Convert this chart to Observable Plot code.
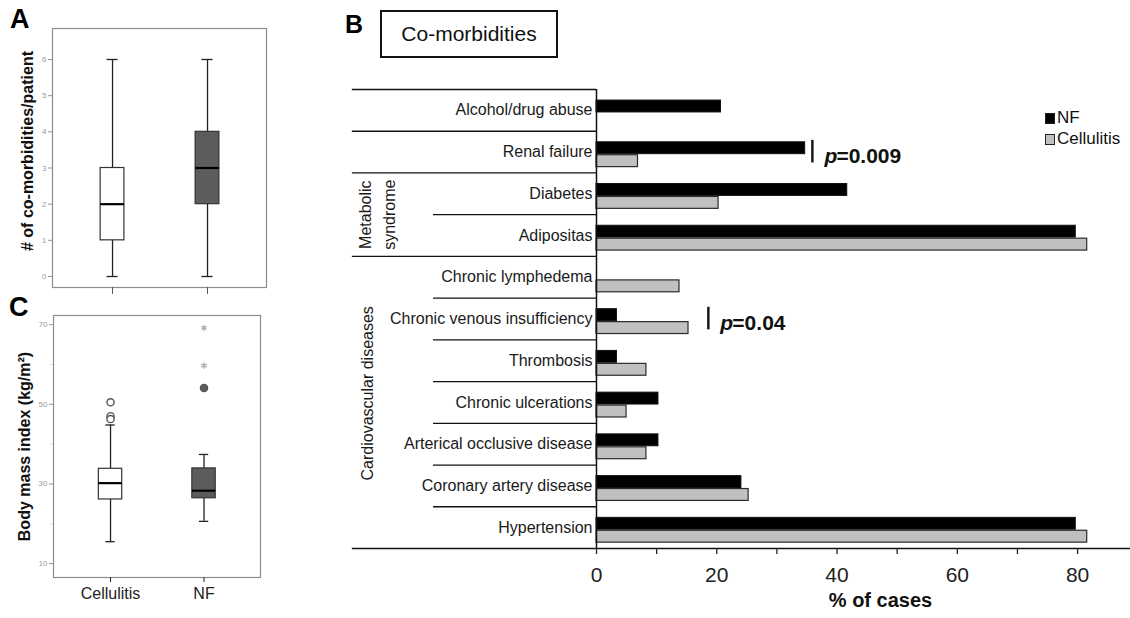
<!DOCTYPE html>
<html>
<head>
<meta charset="utf-8">
<script src="https://cdn.jsdelivr.net/npm/d3@7"></script>
<script src="https://cdn.jsdelivr.net/npm/@observablehq/plot@0.6"></script>
<style>
  html, body { margin: 0; padding: 0; background: #fff; }
  #root { position: relative; width: 1130px; height: 618px; overflow: hidden; background: #fff;
          font-family: "Liberation Sans", Arial, sans-serif; color: #111; }
  #root svg { position: absolute; }
  .letter { position: absolute; font-weight: bold; color: #000; line-height: 1; }
  .titlebox { position: absolute; left: 380px; top: 10px; width: 174px; height: 44px;
              border: 2px solid #111; font-size: 21px; line-height: 44px; text-align: center; }
  .legend { position: absolute; left: 1045px; top: 107px; font-size: 17px; line-height: 21px; }
  .legend .sw { display: inline-block; width: 8px; height: 9px; margin-right: 2px; vertical-align: -1px; border: 1px solid #222; }
</style>
</head>
<body>
<div id="root"></div>
<script>
// ---------------- Data ----------------
// Panel B: co-morbidities, % of cases
const comorbidities = [
  "Alcohol/drug abuse", "Renal failure", "Diabetes", "Adipositas",
  "Chronic lymphedema", "Chronic venous insufficiency", "Thrombosis",
  "Chronic ulcerations", "Arterical occlusive disease",
  "Coronary artery disease", "Hypertension"
];
const nfPercent         = [20.7, 34.7, 41.7, 79.7, 0,    3.4,  3.4, 10.3, 10.3, 24.1, 79.7];
const cellulitisPercent = [0,     6.9, 20.3, 81.6, 13.8, 15.3, 8.3,  5.0,  8.3, 25.3, 81.6];
const seriesNames = ["NF", "Cellulitis"];
const percentTicks = [0, 10, 20, 30, 40, 50, 60, 70, 80];
const percentLabelled = [0, 20, 40, 60, 80];
// Row separators (row boundary index) and whether they span the group-label column
const separatorRow  = [0, 1, 2, 3, 4, 5, 6, 7, 8, 9, 10];
const separatorWide = [true, true, true, false, true, false, false, false, false, false, false];
// Group labels and the rows they cover
const groupLabels   = ["Metabolic\nsyndrome", "Cardiovascular diseases"];
const groupFirstRow = [2, 4];
const groupLastRow  = [3, 10];
// Significance annotations
const pRows   = [1, 5];
const pAt     = [35.9, 18.6];   // % position of the marker bar
const pValues = ["0.009", "0.04"];

// Panel A: number of co-morbidities per patient (box plot)
const boxGroups = ["Cellulitis", "NF"];
const comorbMin    = [0, 0];
const comorbQ1     = [1, 2];
const comorbMedian = [2, 3];
const comorbQ3     = [3, 4];
const comorbMax    = [6, 6];
const comorbTicks  = [0, 1, 2, 3, 4, 5, 6];

// Panel C: body mass index (box plot)
const bmiMin    = [15.5, 20.6];
const bmiQ1     = [26.1, 26.4];
const bmiMedian = [30.2, 28.3];
const bmiQ3     = [33.8, 33.9];
const bmiMax    = [44.8, 37.4];
const bmiOutlierGroup = ["Cellulitis", "Cellulitis", "Cellulitis", "NF", "NF", "NF"];
const bmiOutlierValue = [50.5, 47.0, 46.3, 54.1, 59.7, 69.2];
const bmiOutlierKind  = ["circle", "circle", "circle", "circle", "extreme", "extreme"];
const bmiTicks      = [10, 30, 50, 70];
const bmiMinorTicks = [20, 40, 60];

// ---------------- Helpers ----------------
const FONT = "'Liberation Sans', Arial, sans-serif";
const root = document.getElementById("root");
function place(node, left, top) {
  node.style.left = left + "px";
  node.style.top = top + "px";
  root.appendChild(node);
}
function addDiv(cls, text, left, top, size) {
  const d = document.createElement("div");
  d.className = cls;
  d.textContent = text;
  d.style.left = left + "px";
  d.style.top = top + "px";
  if (size) d.style.fontSize = size + "px";
  root.appendChild(d);
  return d;
}
const boxColor = {Cellulitis: "#ffffff", NF: "#5c5c5c"};

function boxRows(mins, q1s, meds, q3s, maxs) {
  return boxGroups.map((g, i) => ({
    group: g, pos: i + 1, min: mins[i], q1: q1s[i], median: meds[i], q3: q3s[i], max: maxs[i]
  }));
}

function boxMarks(rows, halfBox, halfCap) {
  return [
    Plot.ruleX(rows, {x: "pos", y1: "min", y2: "q1", stroke: "#222", strokeWidth: 1.3}),
    Plot.ruleX(rows, {x: "pos", y1: "q3", y2: "max", stroke: "#222", strokeWidth: 1.3}),
    Plot.ruleY(rows, {y: "min", x1: d => d.pos - halfCap, x2: d => d.pos + halfCap, stroke: "#222", strokeWidth: 1.3}),
    Plot.ruleY(rows, {y: "max", x1: d => d.pos - halfCap, x2: d => d.pos + halfCap, stroke: "#222", strokeWidth: 1.3}),
    Plot.rect(rows, {x1: d => d.pos - halfBox, x2: d => d.pos + halfBox, y1: "q1", y2: "q3",
      fill: d => boxColor[d.group], stroke: "#333", strokeWidth: 1.2}),
    Plot.ruleY(rows, {y: "median", x1: d => d.pos - halfBox, x2: d => d.pos + halfBox, stroke: "#000", strokeWidth: 2.2})
  ];
}

// ---------------- Panel A ----------------
const comorbBoxes = boxRows(comorbMin, comorbQ1, comorbMedian, comorbQ3, comorbMax);
const panelA = Plot.plot({
  width: 280, height: 296,
  marginLeft: 52, marginRight: 14, marginTop: 28, marginBottom: 9,
  style: {background: "transparent", fontFamily: FONT},
  x: {domain: [0.368, 2.621]},
  y: {domain: [-0.304, 6.857]},
  marks: [
    Plot.frame({stroke: "#8c8c8c", strokeWidth: 1.2}),
    Plot.axisY({ticks: comorbTicks, tickSize: 4, tickPadding: 2, fontSize: 8, color: "#9a9a9a", label: null}),
    Plot.axisX({ticks: [1, 2], tickFormat: () => "", tickSize: 7, color: "#555", label: null}),
    ...boxMarks(comorbBoxes, 0.125, 0.058),
    Plot.text(["# of co-morbidities/patient"], {frameAnchor: "left", textAnchor: "middle", dx: -25, dy: -7, rotate: -90,
      fontSize: 16, fontWeight: "bold", fill: "#111"})
  ]
});
place(panelA, 0, 0);

// ---------------- Panel C ----------------
const bmiBoxes = boxRows(bmiMin, bmiQ1, bmiMedian, bmiQ3, bmiMax);
const bmiOutliers = bmiOutlierValue.map((v, i) => ({
  pos: boxGroups.indexOf(bmiOutlierGroup[i]) + 1, group: bmiOutlierGroup[i], value: v, kind: bmiOutlierKind[i]
}));
const panelC = Plot.plot({
  width: 280, height: 318,
  marginLeft: 53, marginRight: 20, marginTop: 15, marginBottom: 41,
  style: {background: "transparent", fontFamily: FONT},
  x: {domain: [0.39, 2.604]},
  y: {domain: [6.5, 72.3]},
  marks: [
    Plot.frame({stroke: "#8c8c8c", strokeWidth: 1.2}),
    Plot.axisY({ticks: bmiTicks, tickSize: 4, tickPadding: 2, fontSize: 8, color: "#9a9a9a", label: null}),
    Plot.axisY({ticks: bmiMinorTicks, tickFormat: () => "", tickSize: 3, color: "#dddddd", label: null}),
    Plot.axisX({ticks: [1, 2], tickFormat: d => boxGroups[d - 1], tickSize: 5, tickPadding: 5,
      fontSize: 16, color: "#222", label: null}),
    ...boxMarks(bmiBoxes, 0.125, 0.05),
    Plot.dot(bmiOutliers.filter(d => d.kind === "circle"), {x: "pos", y: "value", r: 3.6,
      fill: d => boxColor[d.group], stroke: "#555", strokeWidth: 1.4}),
    Plot.dot(bmiOutliers.filter(d => d.kind === "extreme"), {x: "pos", y: "value", r: 3,
      symbol: "asterisk", stroke: "#a8a8a8", strokeWidth: 1.2}),
    Plot.text(["Body mass index (kg/m²)"], {frameAnchor: "left", textAnchor: "middle", dx: -29, rotate: -90,
      fontSize: 16, fontWeight: "bold", fill: "#111"})
  ]
});
place(panelC, 0, 300);

// ---------------- Panel B ----------------
const nfRows = comorbidities.map((c, i) => ({row: i, name: c, value: nfPercent[i]})).filter(d => d.value > 0);
const cellRows = comorbidities.map((c, i) => ({row: i, name: c, value: cellulitisPercent[i]})).filter(d => d.value > 0);
const separators = separatorRow.map((r, i) => ({row: r, wide: separatorWide[i]}));
const groups = groupLabels.map((g, i) => ({label: g, mid: (groupFirstRow[i] + groupLastRow[i] + 1) / 2, multi: g.includes("\n")}));
const pMarks = pRows.map((r, i) => ({row: r, at: pAt[i], value: pValues[i]}));
const X_MAX = 88.8;          // right edge of the panel in % units
const WIDE_X = -40.6;        // left end of a wide separator, in % units
const SHORT_X = -27.1;       // left end of a short separator, in % units

const panelB = Plot.plot({
  width: 790, height: 618,
  marginLeft: 256, marginRight: 0, marginTop: 89, marginBottom: 70,
  style: {background: "transparent", fontFamily: FONT},
  x: {domain: [0, X_MAX]},
  y: {domain: [0, comorbidities.length], reverse: true},
  marks: [
    // bars
    Plot.rect(nfRows, {x1: 0, x2: "value", y1: d => d.row + 0.265, y2: d => d.row + 0.55,
      fill: "#000", stroke: "#111", strokeWidth: 1}),
    Plot.rect(cellRows, {x1: 0, x2: "value", y1: d => d.row + 0.575, y2: d => d.row + 0.86,
      fill: "#c0c0c0", stroke: "#2a2a2a", strokeWidth: 1.2}),
    // row separators
    Plot.ruleY(separators, {y: "row", x1: d => d.wide ? WIDE_X : SHORT_X, x2: 0, stroke: "#111", strokeWidth: 1.3}),
    // bottom axis line spanning the whole panel
    Plot.ruleY([comorbidities.length], {x1: WIDE_X, x2: X_MAX, stroke: "#111", strokeWidth: 1.5}),
    // vertical axis line
    Plot.ruleX([0], {y1: 0, y2: comorbidities.length, stroke: "#111", strokeWidth: 1.5}),
    // axes
    Plot.axisX({ticks: percentTicks, tickFormat: d => percentLabelled.includes(d) ? String(d) : "",
      tickSize: 6, tickPadding: 13, fontSize: 21, color: "#222", label: null, strokeWidth: 1.3}),
    Plot.axisY({ticks: comorbidities.map((_, i) => i + 0.5), tickFormat: d => comorbidities[Math.floor(d)],
      tickSize: 0, tickPadding: 4, fontSize: 16, color: "#1a1a1a", label: null}),
    Plot.text(["% of cases"], {frameAnchor: "bottom", dx: 17, dy: 58, fontSize: 20, fontWeight: "bold", fill: "#111"}),
    // group labels (rotated)
    Plot.text(groups.filter(d => d.multi), {y: "mid", text: "label", frameAnchor: "left", textAnchor: "middle",
      dx: -221, rotate: -90, lineHeight: 1.5, fontSize: 16, fill: "#1a1a1a"}),
    Plot.text(groups.filter(d => !d.multi), {y: d => d.mid - 0.22, text: "label", frameAnchor: "left", textAnchor: "middle",
      dx: -229, rotate: -90, fontSize: 16, fill: "#1a1a1a"}),
    // significance annotations
    Plot.ruleX(pMarks, {x: "at", y1: d => d.row + 0.22, y2: d => d.row + 0.76, stroke: "#111", strokeWidth: 2.4}),
    Plot.text(pMarks, {x: "at", y: d => d.row + 0.6, text: () => "p", dx: 12, textAnchor: "start",
      fontSize: 21, fontWeight: "bold", fontStyle: "italic", fill: "#111"}),
    Plot.text(pMarks, {x: "at", y: d => d.row + 0.6, text: d => "=" + d.value, dx: 24, textAnchor: "start",
      fontSize: 21, fontWeight: "bold", fill: "#111"})
  ]
});
place(panelB, 340, 0);

// ---------------- Titles, letters, legend ----------------
addDiv("letter", "A", 10, 6, 27);
addDiv("letter", "C", 9, 294, 27);
addDiv("letter", "B", 345, 12, 25);
const title = document.createElement("div");
title.className = "titlebox";
title.textContent = "Co-morbidities";
root.appendChild(title);

const legend = document.createElement("div");
legend.className = "legend";
const legendFill = {NF: "#000", Cellulitis: "#c0c0c0"};
seriesNames.forEach(s => {
  const row = document.createElement("div");
  const sw = document.createElement("span");
  sw.className = "sw";
  sw.style.background = legendFill[s];
  row.appendChild(sw);
  row.appendChild(document.createTextNode(s));
  legend.appendChild(row);
});
root.appendChild(legend);
</script>
</body>
</html>
